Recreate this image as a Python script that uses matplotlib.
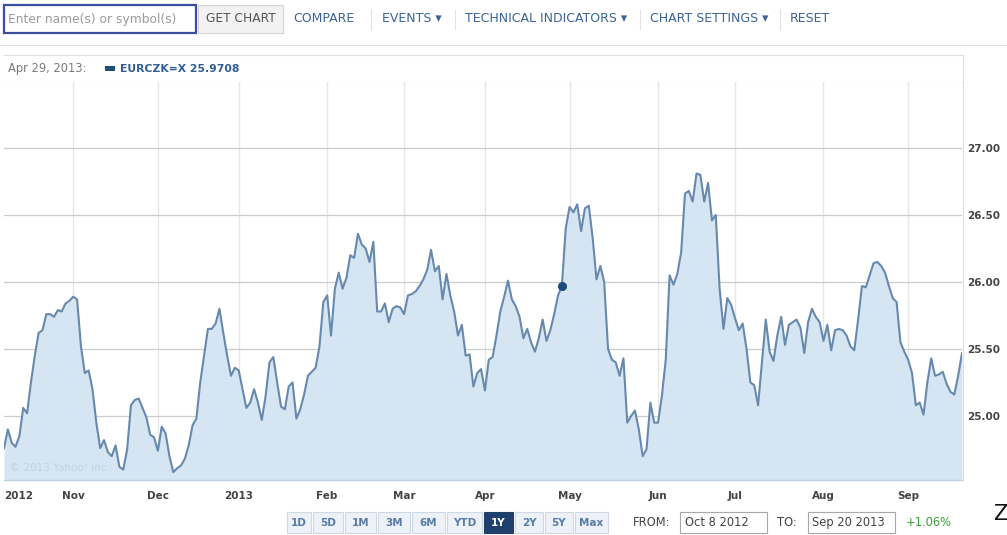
import matplotlib
matplotlib.use("Agg")
import matplotlib.pyplot as plt
from matplotlib.patches import Rectangle
import pandas as pd

# EUR/CZK daily close, Oct 8 2012 - Sep 20 2013 (business days)
start_date = "2012-10-08"
end_date = "2013-09-20"
closes = [
    24.76, 24.90, 24.80, 24.77, 24.85, 25.06, 25.02, 25.25, 25.45, 25.62,
    25.64, 25.76, 25.76, 25.74, 25.79, 25.78, 25.84, 25.86, 25.89, 25.87,
    25.52, 25.32, 25.34, 25.20, 24.95, 24.76, 24.82, 24.73, 24.70, 24.78,
    24.62, 24.60, 24.75, 25.08, 25.12, 25.13, 25.06, 24.99, 24.86, 24.84,
    24.74, 24.92, 24.87, 24.70, 24.58, 24.61, 24.63, 24.68, 24.78, 24.93,
    24.98, 25.25, 25.45, 25.65, 25.65, 25.69, 25.80, 25.62, 25.45, 25.30,
    25.36, 25.34, 25.20, 25.06, 25.10, 25.20, 25.10, 24.97, 25.15, 25.40,
    25.44, 25.25, 25.07, 25.05, 25.22, 25.25, 24.98, 25.05, 25.16, 25.30,
    25.33, 25.36, 25.52, 25.85, 25.90, 25.60, 25.95, 26.07, 25.95, 26.03,
    26.20, 26.18, 26.36, 26.28, 26.25, 26.15, 26.30, 25.78, 25.78, 25.84,
    25.70, 25.80, 25.82, 25.81, 25.76, 25.90, 25.91, 25.93, 25.97, 26.02,
    26.09, 26.24, 26.08, 26.12, 25.87, 26.06, 25.90, 25.78, 25.60, 25.68,
    25.45, 25.46, 25.22, 25.32, 25.35, 25.19, 25.42, 25.44, 25.60, 25.78,
    25.89, 26.01, 25.87, 25.82, 25.74, 25.58, 25.65, 25.55, 25.48, 25.58,
    25.72, 25.56, 25.64, 25.76, 25.90, 25.9708, 26.40, 26.56, 26.52, 26.58,
    26.38, 26.55, 26.57, 26.33, 26.02, 26.12, 26.00, 25.50, 25.42, 25.40,
    25.30, 25.43, 24.95, 25.00, 25.04, 24.90, 24.70, 24.75, 25.10, 24.95,
    24.95, 25.15, 25.42, 26.05, 25.98, 26.06, 26.22, 26.66, 26.68, 26.60,
    26.81, 26.80, 26.60, 26.74, 26.46, 26.50, 25.95, 25.65, 25.88, 25.83,
    25.73, 25.64, 25.69, 25.50, 25.25, 25.23, 25.08, 25.40, 25.72, 25.48,
    25.41, 25.60, 25.74, 25.53, 25.68, 25.70, 25.72, 25.66, 25.47, 25.70,
    25.80, 25.74, 25.70, 25.56, 25.68, 25.49, 25.64, 25.65, 25.64, 25.60,
    25.52, 25.49, 25.72, 25.97, 25.96, 26.05, 26.14, 26.15, 26.12, 26.07,
    25.97, 25.88, 25.85, 25.55, 25.48, 25.42, 25.32, 25.08, 25.10, 25.01,
    25.25, 25.43, 25.30, 25.31, 25.33, 25.24, 25.18, 25.16, 25.30, 25.47,
]
hover_date = "2013-04-29"
hover_label = "Apr 29, 2013:"
symbol = "EURCZK=X"

month_labels = ["2012", "Nov", "Dec", "2013", "Feb", "Mar", "Apr", "May",
                "Jun", "Jul", "Aug", "Sep"]
y_ticks = [25.0, 25.5, 26.0, 26.5, 27.0]

nav_items = ["COMPARE", "EVENTS \u25be", "TECHNICAL INDICATORS \u25be",
             "CHART SETTINGS \u25be", "RESET"]
nav_x = [293, 382, 465, 650, 790]
range_buttons = ["1D", "5D", "1M", "3M", "6M", "YTD", "1Y", "2Y", "5Y", "Max"]
range_edges = [287, 313, 345, 378, 412, 447, 484, 515, 545, 575, 610]
selected_range = "1Y"
change_text = "+1.06%"

dates = pd.bdate_range(start_date, end_date)
xs = list(range(len(dates)))
months = dates.month
month_starts = [i for i in range(1, len(dates)) if months[i] != months[i - 1]]
hover_i = list(dates).index(pd.Timestamp(hover_date))

W, H = 1007, 535
fig = plt.figure(figsize=(W / 100, H / 100), dpi=100)

# page chrome, drawn in pixel coordinates
ui = fig.add_axes([0, 0, 1, 1])
ui.set_xlim(0, W)
ui.set_ylim(H, 0)
ui.axis("off")

ui.add_patch(Rectangle((4, 5), 192, 28, fill=False, ec="#3c4f9e", lw=1.6))
ui.text(8, 19, "Enter name(s) or symbol(s)", fontsize=8.8, color="#9a9a9a",
        va="center")
ui.add_patch(Rectangle((198, 5), 85, 28, fc="#f2f2f2", ec="#d4d4d4", lw=0.8))
ui.text(241, 19, "GET CHART", fontsize=8.8, color="#555555",
        ha="center", va="center")
for label, x in zip(nav_items, nav_x):
    ui.text(x, 19, label, fontsize=9, color="#3a6396", va="center")
for x in [371, 455, 640, 780]:
    ui.plot([x, x], [10, 29], color="#e2e2e2", lw=0.8)
ui.plot([0, W], [45, 45], color="#dddddd", lw=0.8)

# header strip above the plot
ui.plot([4, 963, 963], [55, 55, 480], color="#dedede", lw=0.8)
ui.plot([4, 963], [82, 82], color="#dedede", lw=0.8)
ui.text(8, 68.5, hover_label, fontsize=8.3, color="#7a7a7a", va="center")
ui.add_patch(Rectangle((105, 66), 10, 5, fc="#1f4d7c", ec="none"))
ui.text(120, 68.5, f"{symbol} {closes[hover_i]:.4f}", fontsize=7.8,
        color="#2f5f99", va="center", fontweight="bold")

# range buttons
for label, x0, x1 in zip(range_buttons, range_edges[:-1], range_edges[1:]):
    sel = label == selected_range
    ui.add_patch(Rectangle((x0, 512), x1 - x0 - 2, 21,
                           fc="#1f3f6d" if sel else "#edf2f8",
                           ec="#1f3f6d" if sel else "#cfd8e3", lw=0.8))
    ui.text((x0 + x1 - 2) / 2, 522.5, label, fontsize=7.5,
            color="white" if sel else "#5a7ba6", ha="center", va="center",
            fontweight="bold")

ui.text(633, 522.5, "FROM:", fontsize=8.3, color="#444444", va="center")
ui.add_patch(Rectangle((680, 512), 87, 21, fc="white", ec="#a8a8a8", lw=0.8))
ui.text(685, 522.5, dates[0].strftime("%b %-d %Y"), fontsize=8.3,
        color="#444444", va="center")
ui.text(777, 522.5, "TO:", fontsize=8.3, color="#444444", va="center")
ui.add_patch(Rectangle((808, 512), 87, 21, fc="white", ec="#a8a8a8", lw=0.8))
ui.text(812, 522.5, dates[-1].strftime("%b %-d %Y"), fontsize=8.3,
        color="#444444", va="center")
ui.text(906, 522.5, change_text, fontsize=8.3, color="#3aa335", va="center")
ui.text(993, 514, "Z", fontsize=15, color="#111111", va="center")

# price chart
y_lo, y_hi = 24.522, 27.493
ax = fig.add_axes([4 / W, (H - 480) / H, 958 / W, 398 / H])
ax.set_xlim(0, len(dates) - 1)
ax.set_ylim(y_lo, y_hi)
ax.set_facecolor("white")
for x in month_starts:
    ax.axvline(x, color="#e6e6e6", lw=1.0, zorder=1)
for y in y_ticks:
    ax.axhline(y, color="#cccccc", lw=0.9, zorder=1)
ax.fill_between(xs, closes, y_lo, color="#d6e5f2", lw=0, zorder=2)
ax.plot(xs, closes, color="#6789ae", lw=1.5, zorder=3)
ax.plot(hover_i, closes[hover_i], "o", ms=5.5, color="#1d4a7a", zorder=4)
ax.text(1.5, 24.59, "\u00a9 2013 Yahoo! Inc.", fontsize=7.5, color="#c3d2e0",
        zorder=3)

ax.set_xticks([0] + month_starts)
ax.set_xticklabels(month_labels, fontsize=7.5, color="#444444",
                   fontweight="bold")
ax.get_xticklabels()[0].set_horizontalalignment("left")
ax.get_xticklabels()[0].set_x(1)
ax.yaxis.tick_right()
ax.set_yticks(y_ticks)
ax.set_yticklabels([f"{v:.2f}" for v in y_ticks], fontsize=7.5,
                   color="#444444", fontweight="bold")
ax.tick_params(axis="x", length=0, pad=8)
ax.tick_params(axis="y", length=0, pad=4)
for side in ["top", "right", "left"]:
    ax.spines[side].set_visible(False)
ax.spines["bottom"].set_color("#bcd0e3")
ax.spines["bottom"].set_linewidth(1.0)

fig.savefig("out.png", dpi=100)
